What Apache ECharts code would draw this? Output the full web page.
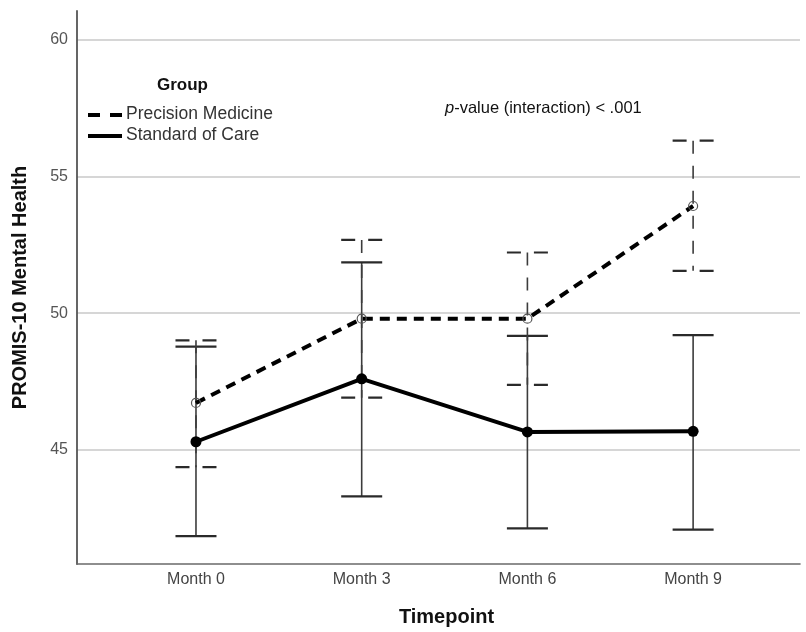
<!DOCTYPE html>
<html>
<head>
<meta charset="utf-8">
<script src="https://cdn.jsdelivr.net/npm/echarts@6/dist/echarts.min.js"></script>
<style>
  html, body { margin: 0; padding: 0; background: #fff; }
  #chart { width: 806px; height: 632px; }
</style>
</head>
<body>
<div id="chart"></div>
<script>
// Timepoints on the horizontal axis
const timepoints = ['Month 0', 'Month 3', 'Month 6', 'Month 9'];
const yTicks = [45, 50, 55, 60];

// Precision Medicine: estimated means with interval bounds
const pmMean = [46.72, 49.80, 49.80, 53.92];
const pmLow  = [44.37, 46.91, 47.38, 51.55];
const pmHigh = [49.01, 52.68, 52.22, 56.31];

// Standard of Care: estimated means with interval bounds
const socMean = [45.30, 47.60, 45.66, 45.68];
const socLow  = [41.85, 43.30, 42.13, 42.09];
const socHigh = [48.78, 51.86, 49.17, 49.20];

const FONT = '"Liberation Sans", Arial, Helvetica, sans-serif';
const idx = timepoints.map((_, i) => i);

function pairs(vals) {
  return vals.map((v, i) => [i, v]);
}

// Vertical interval bar with caps, positioned through the chart's scales
function errorBars(name, low, high, dashed) {
  return {
    type: 'custom',
    name: name + ' CI',
    z: 1,
    silent: true,
    data: idx.map(i => [i, low[i], high[i]]),
    encode: { x: 0, y: [1, 2] },
    renderItem: function (params, api) {
      const x = api.value(0);
      const lo = api.coord([x, api.value(1)]);
      const hi = api.coord([x, api.value(2)]);
      const half = 20.5;
      const stem = { stroke: '#3c3c3c', lineWidth: 1.6, lineDash: dashed ? [13, 12] : null, fill: null };
      const cap = { stroke: '#2a2a2a', lineWidth: 2.2, lineDash: dashed ? [14, 13] : null, fill: null };
      return {
        type: 'group',
        children: [
          { type: 'line', shape: { x1: lo[0], y1: hi[1], x2: lo[0], y2: lo[1] }, style: stem },
          { type: 'line', shape: { x1: hi[0] - half, y1: hi[1], x2: hi[0] + half, y2: hi[1] }, style: cap },
          { type: 'line', shape: { x1: lo[0] - half, y1: lo[1], x2: lo[0] + half, y2: lo[1] }, style: cap }
        ]
      };
    }
  };
}

const chart = echarts.init(document.getElementById('chart'), null, { renderer: 'canvas' });

chart.setOption({
  animation: false,
  backgroundColor: '#ffffff',
  textStyle: { fontFamily: FONT },
  grid: { left: 77, right: 6, top: 11, bottom: 64, containLabel: false },
  xAxis: {
    type: 'value',
    min: -0.718,
    max: 3.645,
    name: 'Timepoint',
    nameLocation: 'middle',
    nameGap: 43,
    nameTextStyle: { fontFamily: FONT, fontSize: 20, fontWeight: 'bold', color: '#111', padding: [0, 0, 0, 16] },
    axisLine: { show: true, onZero: false, lineStyle: { color: '#6a6a6a', width: 1.6 } },
    axisTick: { show: false, customValues: idx },
    splitLine: { show: false },
    axisLabel: {
      customValues: idx,
      margin: 8,
      fontFamily: FONT,
      fontSize: 16,
      color: '#444',
      formatter: v => timepoints[Math.round(v)]
    }
  },
  yAxis: {
    type: 'value',
    min: 40.83,
    max: 61.05,
    name: 'PROMIS-10 Mental Health',
    nameLocation: 'middle',
    nameGap: 47,
    nameTextStyle: { fontFamily: FONT, fontSize: 20, fontWeight: 'bold', color: '#111' },
    axisLine: { show: true, onZero: false, lineStyle: { color: '#555', width: 1.8 } },
    axisTick: { show: false, customValues: yTicks },
    splitLine: { show: true, lineStyle: { color: '#c9c9c9', width: 1.5 } },
    axisLabel: {
      customValues: yTicks,
      margin: 9,
      fontFamily: FONT,
      fontSize: 16,
      color: '#555'
    }
  },
  series: [
    errorBars('Standard of Care', socLow, socHigh, false),
    errorBars('Precision Medicine', pmLow, pmHigh, true),
    {
      type: 'line',
      name: 'Standard of Care',
      z: 3,
      data: pairs(socMean),
      symbol: 'circle',
      symbolSize: 11,
      itemStyle: { color: '#000' },
      lineStyle: { color: '#000', width: 4 }
    },
    {
      type: 'line',
      name: 'Precision Medicine',
      z: 3,
      data: pairs(pmMean),
      symbol: 'circle',
      symbolSize: 9,
      showAllSymbol: true,
      itemStyle: { color: 'rgba(255,255,255,0)', borderColor: '#555', borderWidth: 1.2 },
      lineStyle: { color: '#000', width: 4, type: [10, 7] }
    }
  ],
  graphic: [
    { type: 'text', left: 157, top: 77, style: { text: 'Group', font: 'bold 17px ' + FONT, fill: '#111' } },
    { type: 'line', shape: { x1: 88, y1: 115, x2: 122, y2: 115 }, style: { stroke: '#000', lineWidth: 4, lineDash: [12, 10] } },
    { type: 'text', left: 126, top: 105, style: { text: 'Precision Medicine', font: '17.5px ' + FONT, fill: '#333' } },
    { type: 'line', shape: { x1: 88, y1: 136, x2: 122, y2: 136 }, style: { stroke: '#000', lineWidth: 4 } },
    { type: 'text', left: 126, top: 126, style: { text: 'Standard of Care', font: '17.5px ' + FONT, fill: '#333' } },
    {
      type: 'text', left: 445, top: 100,
      style: {
        text: '{i|p}-value (interaction) < .001',
        font: '16.5px ' + FONT,
        fill: '#111',
        rich: { i: { fontStyle: 'italic', fontSize: 16.5, fontFamily: FONT, fill: '#111' } }
      }
    }
  ]
});
</script>
</body>
</html>
